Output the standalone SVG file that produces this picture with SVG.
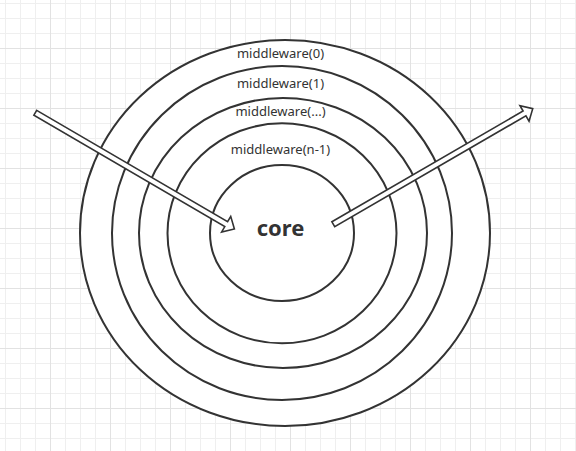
<svg xmlns="http://www.w3.org/2000/svg" width="576" height="451" viewBox="0 0 576 451">
  <style>
    .ring { fill: #ffffff; stroke: #333333; stroke-width: 2; }
    .label { font-family: "Noto Sans", "Liberation Sans", sans-serif; font-size: 13px; fill: #333333; text-anchor: middle; }
    .core { font-family: "Noto Sans", "Liberation Sans", sans-serif; font-size: 22px; font-weight: bold; fill: #333333; text-anchor: middle; }
    .arrow { fill: #ffffff; stroke: #333333; stroke-width: 1.6; stroke-linejoin: miter; }
  </style>
  <defs>
    <pattern id="grid" patternUnits="userSpaceOnUse" x="5" y="3" width="60" height="60">
      <path d="M0.5 0V60M15.5 0V60M30.5 0V60M0 0.5H60M0 15.5H60M0 30.5H60" stroke="#efefef" stroke-width="1" fill="none"/>
      <path d="M45.5 0V60M0 45.5H60" stroke="#e2e2e2" stroke-width="1" fill="none"/>
    </pattern>
  </defs>
  <rect x="0" y="0" width="576" height="451" fill="#ffffff"/>
  <rect x="0" y="0" width="576" height="451" fill="url(#grid)"/>

  <g id="middleware0">
    <ellipse class="ring" cx="285" cy="233" rx="205" ry="193"/>
    <text class="label" x="280.5" y="58">middleware(0)</text>
  </g>
  <g id="middleware1">
    <ellipse class="ring" cx="282" cy="233" rx="170" ry="167"/>
    <text class="label" x="280.5" y="87.5">middleware(1)</text>
  </g>
  <g id="middleware2">
    <ellipse class="ring" cx="283" cy="233" rx="144" ry="135"/>
    <text class="label" x="280.5" y="115.5">middleware(...)</text>
  </g>
  <g id="middleware3">
    <ellipse class="ring" cx="282" cy="233.3" rx="114.5" ry="110"/>
    <text class="label" x="280.5" y="154">middleware(n-1)</text>
  </g>
  <g id="core">
    <ellipse class="ring" cx="282" cy="233" rx="72" ry="68"/>
    <text class="core" x="280.5" y="236">core</text>
  </g>

  <g id="connectors">
    <polygon class="arrow" transform="translate(35.3 112.8) rotate(30.26)" points="0,-2.8 221,-2.8 221,-9 230.5,0 221,9 221,2.8 0,2.8"/>
    <polygon class="arrow" transform="translate(333.3 224.2) rotate(-30.09)" points="0,-2.8 221,-2.8 221,-9 230.5,0 221,9 221,2.8 0,2.8"/>
  </g>
</svg>
